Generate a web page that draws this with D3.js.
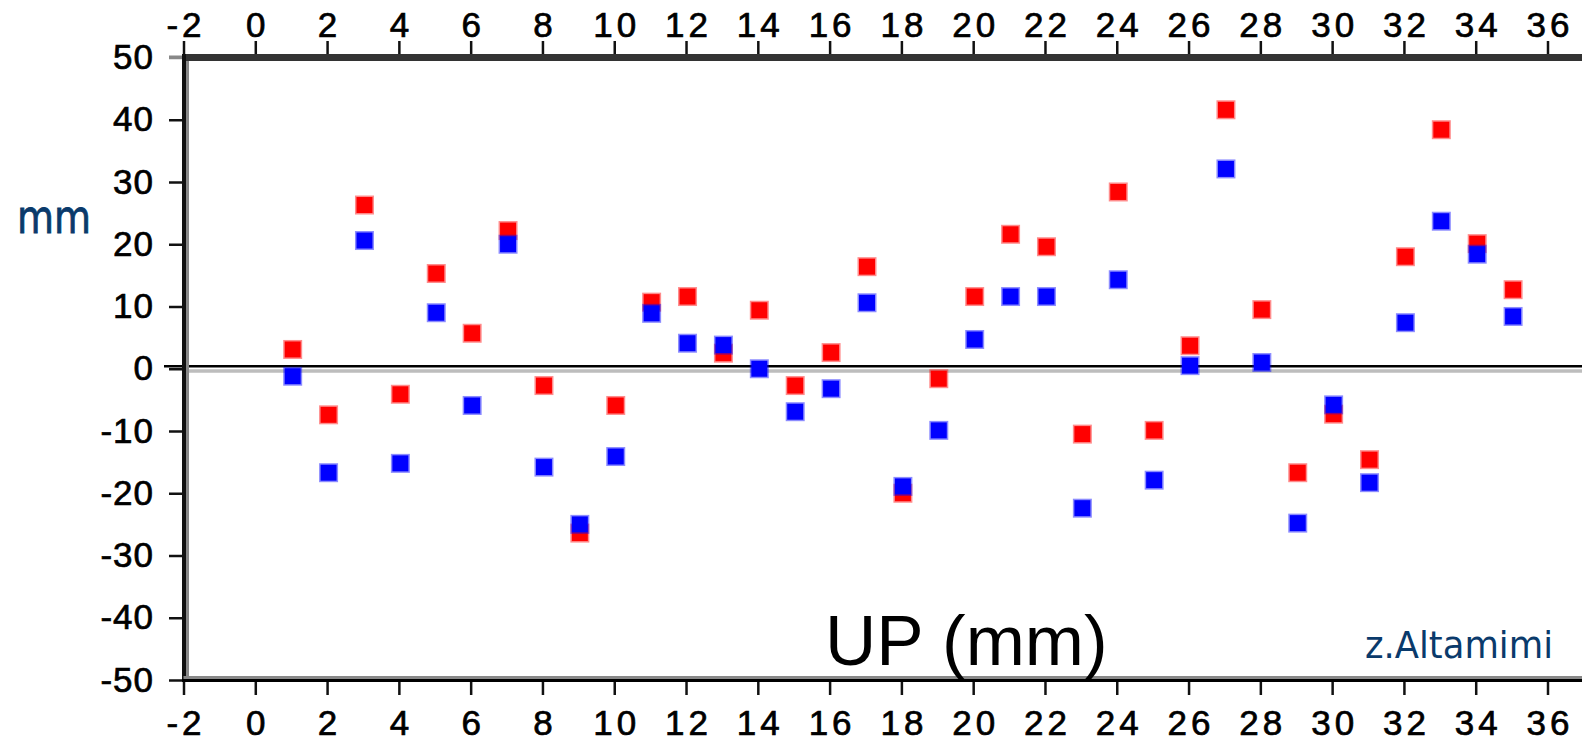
<!DOCTYPE html>
<html>
<head>
<meta charset="utf-8">
<script src="https://cdn.jsdelivr.net/npm/d3@7"></script>
<style>
  html, body { margin: 0; padding: 0; background: #fff; }
  svg { display: block; }
</style>
</head>
<body>
<svg id="chart" width="1582" height="740"></svg>
<script>
// epochs and UP residuals (mm)
var epochs = [1, 2, 3, 4, 5, 6, 7, 8, 9, 10, 11, 12, 13, 14, 15, 16, 17, 18,
  19, 20, 21, 22, 23, 24, 25, 26, 27, 28, 29, 30, 31, 32, 33, 34, 35];
var upRed = [3.1, -7.4, 26.3, -4.1, 15.3, 5.7, 22.2, -2.7, -26.4, -5.9, 10.7,
  11.6, 2.5, 9.4, -2.7, 2.6, 16.4, -20.0, -1.6, 11.6, 21.6, 19.6, -10.5, 28.4,
  -9.9, 3.7, 41.6, 9.5, -16.7, -7.3, -14.6, 18.0, 38.4, 20.1, 12.7];
var upBlue = [-1.2, -16.7, 20.6, -15.2, 9.0, -5.9, 20.0, -15.8, -25.0, -14.1,
  8.9, 4.1, 3.8, 0.0, -6.9, -3.2, 10.6, -18.9, -9.9, 4.7, 11.6, 11.6, -22.4,
  14.3, -17.9, 0.5, 32.1, 1.0, -24.8, -5.8, -18.3, 7.4, 23.7, 18.4, 8.4];
var xTicks = [-2, 0, 2, 4, 6, 8, 10, 12, 14, 16, 18, 20, 22, 24, 26, 28, 30, 32, 34, 36];
var yTicks = [50, 40, 30, 20, 10, 0, -10, -20, -30, -40, -50];
var meanLine = 0.4;   // black line just above zero
var zeroLine = -0.35; // grey line just below it

var W = 1582;
var svg = d3.select('#chart');
var x = d3.scaleLinear().domain([-2, 36]).range([183.5, 1547.5]);
var y = d3.scaleLinear().domain([-50, 50]).range([680, 57.5]);

var numFont = '"Liberation Sans", Arial, Helvetica, sans-serif';
var fmt = function (d) { return String(d); };

// reference lines
svg.append('line')
  .attr('x1', x(-2)).attr('x2', W)
  .attr('y1', y(zeroLine)).attr('y2', y(zeroLine))
  .attr('stroke', '#bdbdbd').attr('stroke-width', 3.5);
svg.append('line')
  .attr('x1', 164).attr('x2', W)
  .attr('y1', y(meanLine)).attr('y2', y(meanLine))
  .attr('stroke', '#000').attr('stroke-width', 2.5);

// markers, soft edge first then the solid core
function drawSeries(vals, col) {
  var g = svg.append('g');
  var shift = 1.5;
  g.selectAll('rect.edge').data(vals).enter().append('rect')
    .attr('class', 'edge')
    .attr('x', function (d, i) { return x(epochs[i]) + shift - 9.5; })
    .attr('y', function (d) { return y(d) - 9.5; })
    .attr('width', 19).attr('height', 19)
    .attr('fill', col).attr('opacity', 0.45);
  g.selectAll('rect.core').data(vals).enter().append('rect')
    .attr('class', 'core')
    .attr('x', function (d, i) { return x(epochs[i]) + shift - 8; })
    .attr('y', function (d) { return y(d) - 8; })
    .attr('width', 16).attr('height', 16)
    .attr('fill', col);
}
drawSeries(upRed, '#ff0000');
drawSeries(upBlue, '#0000ff');

// frame
var yT = y(50), yB = y(-50), xL = x(-2);
svg.append('rect').attr('x', xL).attr('y', yT - 3.5)
  .attr('width', W - xL).attr('height', 7).attr('fill', '#333');
svg.append('rect').attr('x', 169).attr('y', yT - 2)
  .attr('width', xL - 169).attr('height', 3).attr('fill', '#888');
svg.append('rect').attr('x', xL - 1.5).attr('y', yT - 3.5)
  .attr('width', 4).attr('height', yB - yT + 5.5).attr('fill', '#111');
svg.append('rect').attr('x', xL + 2.5).attr('y', yT + 3.5)
  .attr('width', 3).attr('height', yB - yT - 7.5).attr('fill', '#888');
svg.append('rect').attr('x', xL).attr('y', yB - 4)
  .attr('width', W - xL).attr('height', 3).attr('fill', '#888');
svg.append('rect').attr('x', xL - 1.5).attr('y', yB - 1)
  .attr('width', W - xL + 1.5).attr('height', 3).attr('fill', '#000');

// axes
function styleAxis(g, ls) {
  g.select('.domain').remove();
  g.selectAll('.tick line').attr('stroke', '#111').attr('stroke-width', 2.5);
  g.selectAll('.tick text')
    .attr('fill', '#000')
    .attr('stroke', '#000').attr('stroke-width', 0.7)
    .style('font-family', numFont)
    .style('font-size', '35px')
    .style('letter-spacing', ls + 'px');
}

var gTop = svg.append('g').attr('transform', 'translate(0,' + (yT - 3.5) + ')')
  .call(d3.axisTop(x).tickValues(xTicks).tickSize(13).tickPadding(4).tickFormat(fmt));
styleAxis(gTop, 4);
gTop.selectAll('.tick text').attr('dx', 2);

var gBot = svg.append('g').attr('transform', 'translate(0,' + (yB + 2) + ')')
  .call(d3.axisBottom(x).tickValues(xTicks).tickSize(13).tickPadding(15).tickFormat(fmt));
styleAxis(gBot, 4);
gBot.selectAll('.tick text').attr('dx', 2);

var gLeft = svg.append('g').attr('transform', 'translate(' + (xL - 1.5) + ',0)')
  .call(d3.axisLeft(y).tickValues(yTicks).tickSize(13).tickPadding(15).tickFormat(fmt));
styleAxis(gLeft, 1);
gLeft.selectAll('.tick line').filter(function (d) { return d == 50; }).attr('stroke', '#888');

// titles
svg.append('text')
  .attr('x', 825).attr('y', 665)
  .style('font-family', numFont).style('font-size', '71px')
  .attr('fill', '#000')
  .text('UP (mm)');

svg.append('text')
  .attr('x', 17).attr('y', 233)
  .attr('textLength', 74).attr('lengthAdjust', 'spacingAndGlyphs')
  .attr('stroke', '#0a3a6b').attr('stroke-width', 0.8)
  .style('font-family', '"DejaVu Sans", sans-serif').style('font-size', '46px')
  .attr('fill', '#0a3a6b')
  .text('mm');

svg.append('text')
  .attr('x', 1365).attr('y', 658)
  .attr('textLength', 188).attr('lengthAdjust', 'spacingAndGlyphs')
  .style('font-family', '"DejaVu Sans", sans-serif').style('font-size', '38px')
  .attr('fill', '#0a3a6b')
  .text('z.Altamimi');
</script>
</body>
</html>
